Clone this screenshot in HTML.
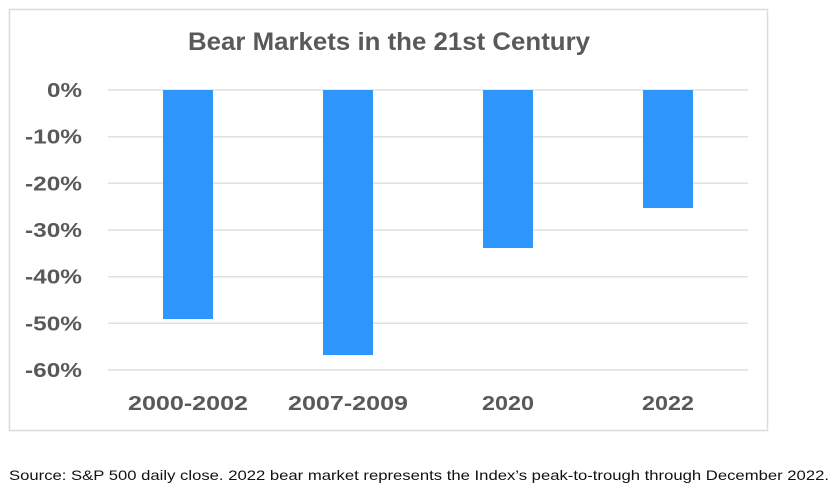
<!DOCTYPE html>
<html><head><meta charset="utf-8"><style>
html,body{margin:0;padding:0;background:#fff;}
</style></head><body>
<svg width="833" height="492" xmlns="http://www.w3.org/2000/svg" style="display:block">
<rect x="9.5" y="9.5" width="758" height="421" fill="#fff" stroke="#dcdcdc" stroke-width="1.5"/>
<text x="389" y="50" text-anchor="middle" font-family="Liberation Sans, sans-serif" font-weight="bold" font-size="25" fill="#595959" textLength="402" lengthAdjust="spacingAndGlyphs">Bear Markets in the 21st Century</text>
<g stroke="#e0e0e0" stroke-width="1.5">
<line x1="108" x2="748" y1="90" y2="90"/>
<line x1="108" x2="748" y1="136.7" y2="136.7"/>
<line x1="108" x2="748" y1="183.3" y2="183.3"/>
<line x1="108" x2="748" y1="230" y2="230"/>
<line x1="108" x2="748" y1="276.7" y2="276.7"/>
<line x1="108" x2="748" y1="323.3" y2="323.3"/>
<line x1="108" x2="748" y1="370" y2="370"/>
</g>
<g font-family="Liberation Sans, sans-serif" font-weight="bold" font-size="20" fill="#595959" text-anchor="end">
<text x="82" y="97" textLength="35" lengthAdjust="spacingAndGlyphs">0%</text>
<text x="82" y="143.7" textLength="57" lengthAdjust="spacingAndGlyphs">-10%</text>
<text x="82" y="190.3" textLength="57" lengthAdjust="spacingAndGlyphs">-20%</text>
<text x="82" y="237" textLength="57" lengthAdjust="spacingAndGlyphs">-30%</text>
<text x="82" y="283.7" textLength="57" lengthAdjust="spacingAndGlyphs">-40%</text>
<text x="82" y="330.3" textLength="57" lengthAdjust="spacingAndGlyphs">-50%</text>
<text x="82" y="377" textLength="57" lengthAdjust="spacingAndGlyphs">-60%</text>
</g>
<g fill="#2e96fd">
<rect x="163" y="90" width="50" height="229"/>
<rect x="323" y="90" width="50" height="265"/>
<rect x="483" y="90" width="50" height="158"/>
<rect x="643" y="90" width="50" height="118"/>
</g>
<g font-family="Liberation Sans, sans-serif" font-weight="bold" font-size="20" fill="#595959" text-anchor="middle">
<text x="188" y="410" textLength="120" lengthAdjust="spacingAndGlyphs">2000-2002</text>
<text x="348" y="410" textLength="120" lengthAdjust="spacingAndGlyphs">2007-2009</text>
<text x="508" y="410" textLength="52" lengthAdjust="spacingAndGlyphs">2020</text>
<text x="668" y="410" textLength="52" lengthAdjust="spacingAndGlyphs">2022</text>
</g>
<text x="9" y="480" font-family="Liberation Sans, sans-serif" font-size="14" fill="#111" textLength="820" lengthAdjust="spacingAndGlyphs">Source: S&amp;P 500 daily close. 2022 bear market represents the Index’s peak-to-trough through December 2022.</text>
</svg>
</body></html>
